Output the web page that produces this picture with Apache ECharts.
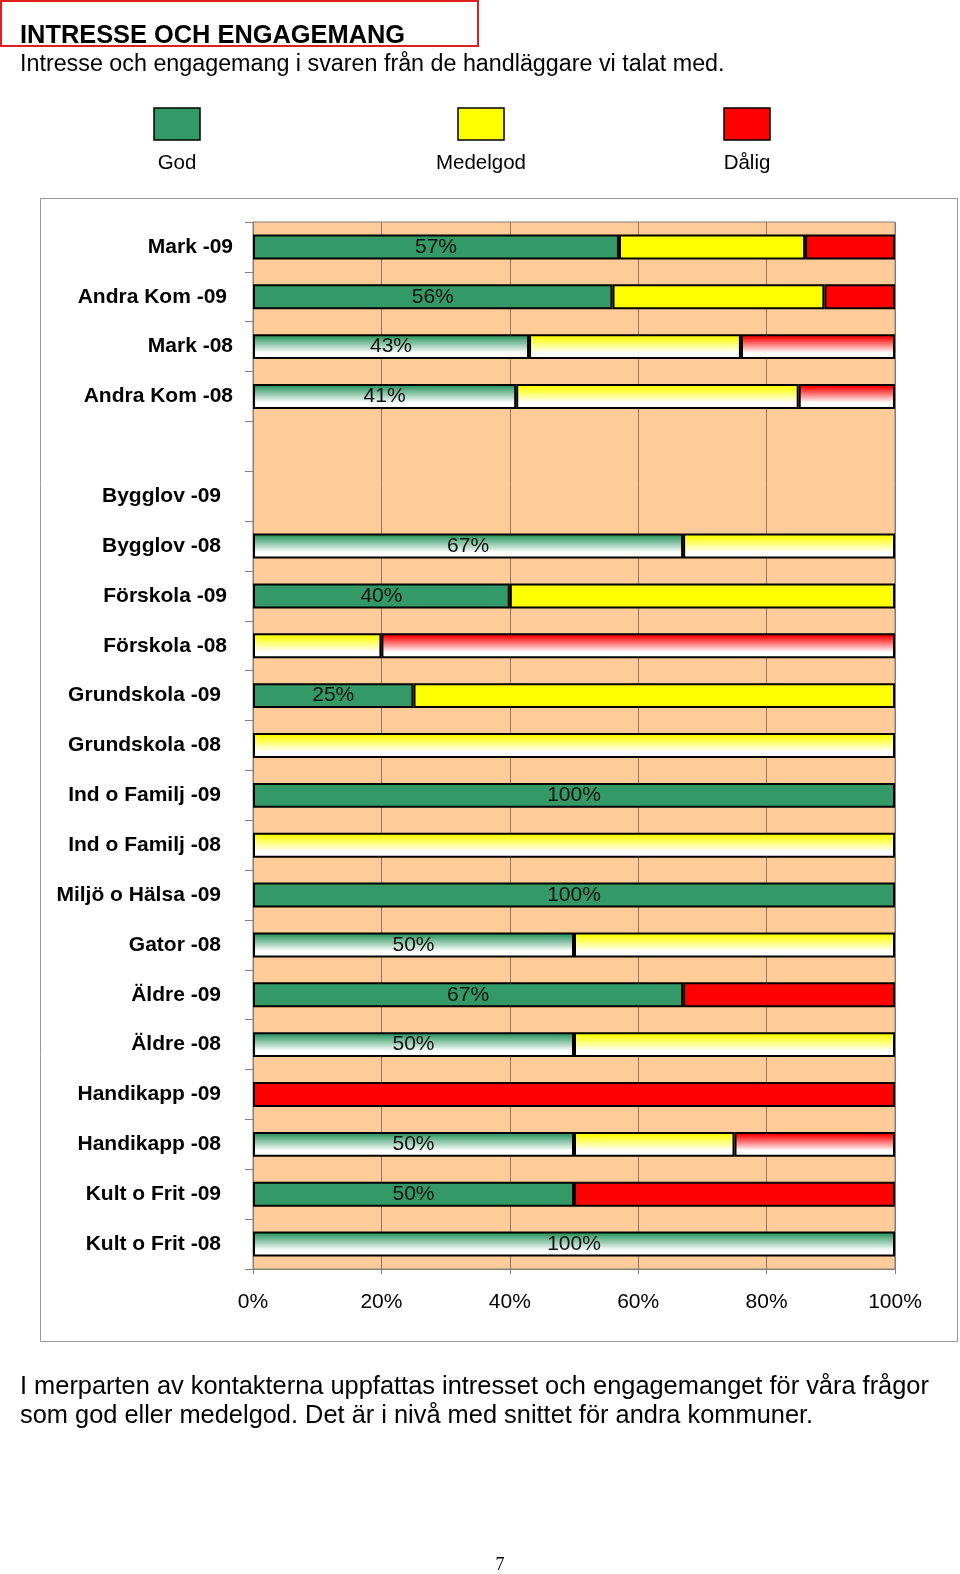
<!DOCTYPE html>
<html>
<head>
<meta charset="utf-8">
<script src="https://cdn.jsdelivr.net/npm/echarts@6/dist/echarts.min.js"></script>
<style>
html,body{margin:0;padding:0;background:#fff;}
#c{width:960px;height:1574px;}
</style>
</head>
<body>
<div id="c"></div>
<script>
// ---- data ----
const categories = ['Mark -09','Andra Kom -09','Mark -08','Andra Kom -08','','Bygglov -09','Bygglov -08','Förskola -09','Förskola -08','Grundskola -09','Grundskola -08','Ind o Familj -09','Ind o Familj -08','Miljö o Hälsa -09','Gator -08','Äldre -09','Äldre -08','Handikapp -09','Handikapp -08','Kult o Frit -09','Kult o Frit -08'];
const god      = [57,56,43,41,0,0,67,40,0,25,0,100,0,100,50,67,50,0,50,50,100];
const medelgod = [29,33,33,44,0,0,33,60,20,75,100,0,100,0,50,0,50,0,25,0,0];
const dalig    = [14,11,24,15,0,0,0,0,80,0,0,0,0,0,0,33,0,100,25,50,0];
const seriesNames = ['God','Medelgod','Dålig'];
const xTicks = [0,20,40,60,80,100];
const titleText = 'INTRESSE OCH ENGAGEMANG';
const subtitleText = 'Intresse och engagemang i svaren från de handläggare vi talat med.';
const bodyLines = ['I merparten av kontakterna uppfattas intresset och engagemanget för våra frågor','som god eller medelgod. Det är i nivå med snittet för andra kommuner.'];
const pageNo = '7';

// ---- styles ----
const colors = ['#339966','#FFFF00','#FF0000'];
const labelPadRight = [0,6,0,0,0,12,12,6,6,12,12,12,12,12,12,12,12,12,12,12,12];
const FONT = "'Liberation Sans', Arial, sans-serif";

function fillFor(cat, color){
  if (/-08$/.test(cat)) {
    return {type:'linear',x:0,y:0,x2:0,y2:1,colorStops:[
      {offset:0,color:color},{offset:0.1,color:color},{offset:0.75,color:'#ffffff'},{offset:1,color:'#ffffff'}]};
  }
  return color;
}
function buildData(arr, color){
  return arr.map((v,i)=>({
    value: v>0 ? v : '-',
    itemStyle:{color: fillFor(categories[i], color), borderColor:'#000', borderWidth:2}
  }));
}
const vals = [god, medelgod, dalig];
const series = seriesNames.map((n,k)=>({
  name:n, type:'bar', stack:'all', barWidth:'50%',
  data: buildData(vals[k], colors[k]),
  label: k===0 ? {show:true, position:'inside', formatter:'{c}%', color:'#111', fontSize:21, fontFamily:FONT} : {show:false},
  emphasis:{disabled:true}, silent:true, animation:false
}));

const legendCenters = [177,481,747];
const graphic = [
  {type:'rect', shape:{x:1,y:1,width:477,height:45}, style:{fill:'none',stroke:'#E02020',lineWidth:2}},
  {type:'text', x:20, y:36, style:{text:titleText, font:"bold 25.4px "+FONT, fill:'#000', textVerticalAlign:'middle'}},
  {type:'text', x:20, y:65, style:{text:subtitleText, font:"23.3px "+FONT, fill:'#000', textVerticalAlign:'middle'}},
  {type:'rect', shape:{x:40.5,y:198.5,width:917,height:1143}, style:{fill:'none',stroke:'#999',lineWidth:1}},
  {type:'text', x:20, y:1387, style:{text:bodyLines[0], font:"25.4px "+FONT, fill:'#000', textVerticalAlign:'middle'}},
  {type:'text', x:20, y:1416, style:{text:bodyLines[1], font:"25.4px "+FONT, fill:'#000', textVerticalAlign:'middle'}},
  {type:'text', x:500, y:1565, style:{text:pageNo, font:"18px 'Liberation Serif', 'Times New Roman', serif", fill:'#000', textAlign:'center', textVerticalAlign:'middle'}}
];
seriesNames.forEach((n,k)=>{
  const cx = legendCenters[k];
  graphic.push({type:'rect', shape:{x:cx-23,y:108,width:46,height:32}, style:{fill:colors[k],stroke:'#000',lineWidth:1.5}});
  graphic.push({type:'text', x:cx, y:163, style:{text:n, font:"20.5px "+FONT, fill:'#000', textAlign:'center', textVerticalAlign:'middle'}});
});

const chart = echarts.init(document.getElementById('c'), null, {renderer:'canvas'});
chart.setOption({
  animation:false,
  backgroundColor:'#ffffff',
  grid:{left:253, right:65, top:222, height:1047, show:true, backgroundColor:'#FFCC99', borderColor:'#808080', borderWidth:1, containLabel:false},
  xAxis:{type:'value', min:xTicks[0], max:xTicks[xTicks.length-1], interval:xTicks[1]-xTicks[0],
    axisLine:{show:true, lineStyle:{color:'#808080',width:1}},
    axisTick:{show:true, length:5, lineStyle:{color:'#808080'}},
    splitLine:{show:true, lineStyle:{color:'#8a7a6a',width:1}},
    axisLabel:{formatter:'{value}%', fontSize:21, color:'#000', fontFamily:FONT, margin:23}},
  yAxis:{type:'category', inverse:true, data:categories.map((c,i)=>({value:c, textStyle:{padding:[0,labelPadRight[i],0,0]}})),
    axisLine:{show:true, lineStyle:{color:'#808080',width:1}},
    axisTick:{show:true, length:8, lineStyle:{color:'#808080'}},
    axisLabel:{fontSize:21, fontWeight:'bold', color:'#000', fontFamily:FONT, margin:20}},
  series: series,
  graphic: graphic
});
</script>
</body>
</html>
